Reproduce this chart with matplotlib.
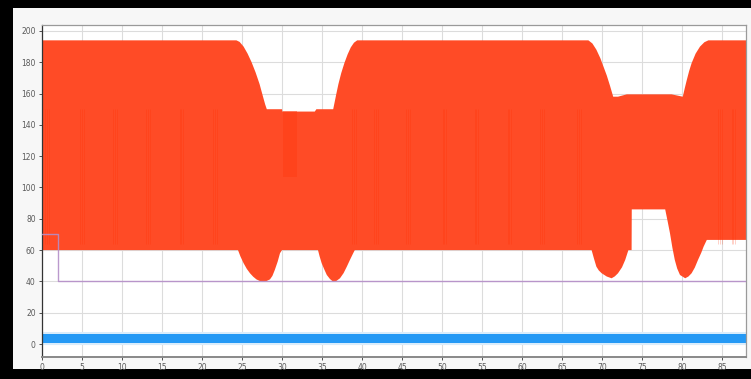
import matplotlib.pyplot as plt
import matplotlib.patches as mpatches
import numpy as np

# upper envelope of the fast red signal (time, value)
red_up_x = [0, 24.3, 24.7, 25.2, 25.7, 26.2, 26.7, 27.2, 27.6, 27.9, 28.1, 30.0,
            30.05, 34.1, 34.3, 36.4, 36.6, 36.8, 37.05, 37.4, 37.8, 38.2, 38.6,
            39.0, 39.4, 68.3, 68.8, 69.3, 69.8, 70.2, 70.6, 71.0, 71.4, 72.0,
            73.1, 78.7, 80.1, 80.35, 80.6, 80.9, 81.2, 81.7, 82.25, 82.8, 83.3, 88]
red_up_y = [194, 194, 193, 190, 185.5, 180, 173.5, 166, 158.5, 153, 150, 150,
            148.5, 148.5, 150, 150, 155, 160, 166, 173, 179.5, 185, 189.5,
            192.5, 194, 194, 192, 188, 182.5, 177, 171.5, 165, 158, 158,
            159.5, 159.5, 158, 163.5, 168.7, 174.5, 179.4, 185.5, 190, 192.8, 194, 194]

# lower envelope of the fast red signal
red_lo_x = [0, 24.5, 24.8, 25.2, 25.6, 26.0, 26.4, 26.8, 27.2, 27.7, 28.1, 28.5,
            28.8, 29.1, 29.45, 29.75, 30.0, 34.5, 34.7, 34.96, 35.3, 35.6, 36.0,
            36.4, 36.8, 37.25, 37.7, 38.1, 38.5, 38.9, 39.1, 68.7, 69.0, 69.3,
            69.6, 69.96, 70.6, 71.2, 71.6, 72.0, 72.5, 72.9, 73.3, 73.7, 73.72,
            77.9, 78.2, 78.5, 78.8, 79.1, 79.4, 79.75, 80.4, 80.8, 81.2, 81.6,
            82.0, 82.4, 82.7, 83.1, 88]
red_lo_y = [60, 60, 56, 51.6, 48, 45.2, 43, 41.3, 40.3, 40, 40.3, 41.3,
            43.5, 47.3, 52.5, 58, 60, 60, 56, 51.6, 47.5, 44.1, 41.5,
            39.8, 40.3, 42, 45.3, 49.4, 53.8, 58, 60, 60, 54.5, 49.4,
            47, 45.2, 43.1, 42, 43.2, 45.2, 49, 53.7, 60, 60, 86,
            86, 78.5, 70.7, 61.5, 53.7, 48.2, 44.1, 42, 43.1, 45.2, 48.8,
            53.7, 58.2, 62.2, 66.5, 66.5]

# darker streaks inside the red band (groups of partial peaks up to ~150)
streak_x = [0.4, 4.8, 8.9, 13.0, 17.2, 21.4, 38.8, 41.5, 45.5, 50.1, 54.1,
            58.2, 62.3, 66.9, 84.5, 86.2]

# setpoint step (purple)
purple_x = [0, 2.0, 88]
purple_y = [70, 40, 40]

# fast blue signal band
blue_x = [0, 88]
blue_lo = [0.8, 0.8]
blue_hi = [6.4, 6.4]
blue_halo_lo = [-0.6, -0.6]
blue_halo_hi = [7.9, 7.9]

fig = plt.figure(figsize=(7.51, 3.79), dpi=100, facecolor='black')
# light grey panel inside the black frame
bg = mpatches.Rectangle((13 / 751, 1 - 369 / 379), 738 / 751, 361 / 379,
                        transform=fig.transFigure, facecolor='#f7f7f7',
                        edgecolor='none')
bg.set_zorder(-10)
fig.patches.append(bg)

ax = fig.add_axes([42 / 751, 1 - 357 / 379, 704 / 751, 332 / 379])
ax.set_zorder(1)
ax.set_facecolor('white')

# red band as polygon between envelopes
poly_x = np.concatenate([red_up_x, red_lo_x[::-1]])
poly_y = np.concatenate([red_up_y, red_lo_y[::-1]])
ax.fill(poly_x, poly_y, color='#ff4b26', lw=0, zorder=2)
for sx in streak_x:
    for d in (0.0, 0.2, 0.45):
        ax.vlines(sx + d, 64, 150, color='#ff2e00', lw=0.6, alpha=0.25, zorder=2.1)
ax.fill_between([30.1, 31.9], [107, 107], [149, 149], color='#ff3a10', lw=0,
                alpha=0.45, zorder=2.1)

# blue band
ax.fill_between(blue_x, blue_halo_lo, blue_halo_hi, color='#d9ecfb', lw=0, zorder=2)
ax.fill_between(blue_x, blue_lo, blue_hi, color='#2499f5', lw=0, zorder=2.2)

# purple step
ax.step(purple_x, purple_y, where='post', color='#b48ec8', lw=1.0, alpha=0.9, zorder=3)

ax.set_xlim(0, 88)
ax.set_ylim(-8.3, 203.8)
ax.set_xticks(np.arange(0, 86, 5))
ax.set_yticks(np.arange(0, 201, 20))
ax.grid(True, color='#dcdcdc', lw=0.8, zorder=0)
ax.set_axisbelow(True)
ax.tick_params(labelsize=5.5, labelcolor='#5a5a5a', length=2.5, width=0.6,
               color='#333333', pad=2)

ax.spines['left'].set_color('#333333')
ax.spines['left'].set_linewidth(0.9)
ax.spines['bottom'].set_color('#888888')
ax.spines['bottom'].set_linewidth(1.4)
ax.spines['top'].set_color('#9a9a9a')
ax.spines['right'].set_color('#9a9a9a')
ax.spines['top'].set_linewidth(0.9)
ax.spines['right'].set_linewidth(0.9)

plt.savefig('out.png', dpi=100, facecolor='black')
